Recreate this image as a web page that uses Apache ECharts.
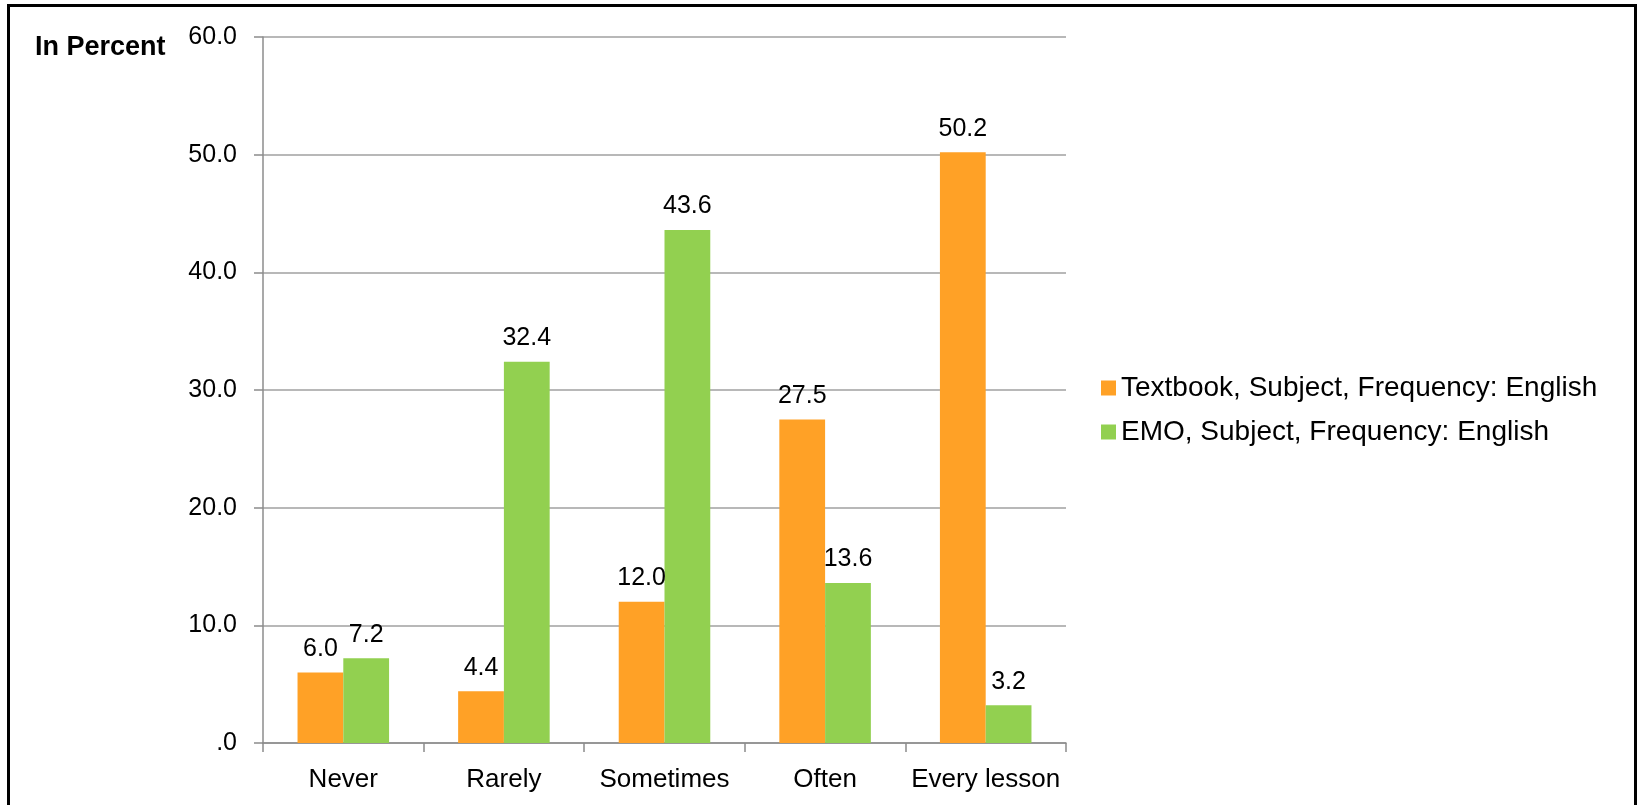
<!DOCTYPE html>
<html>
<head>
<meta charset="utf-8">
<script src="https://cdn.jsdelivr.net/npm/echarts@6/dist/echarts.min.js"></script>
<style>
  html, body { margin: 0; padding: 0; background: #fff; overflow: hidden; }
  #frame { position: absolute; left: 7px; top: 4px; width: 1624px; height: 900px; border: 3px solid #000; }
  #chart { position: absolute; left: 0; top: 0; width: 1642px; height: 805px; }
</style>
</head>
<body>
<div id="frame"></div>
<div id="chart"></div>
<script>
// frequency categories
var categories = ['Never', 'Rarely', 'Sometimes', 'Often', 'Every lesson'];
var textbookValues = [6.0, 4.4, 12.0, 27.5, 50.2];
var emoValues = [7.2, 32.4, 43.6, 13.6, 3.2];
var seriesNames = ['Textbook, Subject, Frequency: English', 'EMO, Subject, Frequency: English'];

var font = 'Liberation Sans';

function barLabel() {
  return {
    show: true, position: 'top', distance: 11,
    fontSize: 25, color: '#000', fontFamily: font,
    formatter: function (p) { return p.value.toFixed(1); }
  };
}

var myChart = echarts.init(document.getElementById('chart'));
var option = {
  animation: false,
  textStyle: { fontFamily: font },
  grid: { left: 263, right: 576, top: 37, bottom: 62 },
  graphic: [
    {
      type: 'text', left: 35, top: 34,
      style: { text: 'In Percent', font: 'bold 27px ' + font, fill: '#000' }
    }
  ],
  legend: {
    orient: 'vertical',
    left: 1096, top: 369,
    itemWidth: 15, itemHeight: 15, itemGap: 16,
    icon: 'rect',
    textStyle: { fontSize: 28, color: '#000', fontFamily: font },
    data: seriesNames
  },
  xAxis: {
    type: 'category',
    data: categories,
    axisLine: { lineStyle: { color: '#8c8c8c', width: 1.5 } },
    axisTick: { show: true, length: 9, lineStyle: { color: '#8c8c8c', width: 1.5 } },
    axisLabel: { interval: 0, fontSize: 26, color: '#000', margin: 24 }
  },
  yAxis: {
    type: 'value',
    min: 0, max: 60, interval: 10,
    axisLine: { show: true, lineStyle: { color: '#8c8c8c', width: 1.5 } },
    axisTick: { show: true, length: 9, lineStyle: { color: '#8c8c8c', width: 1.5 } },
    splitLine: { lineStyle: { color: '#a0a0a0', width: 1.5 } },
    axisLabel: {
      fontSize: 25, color: '#000', margin: 26,
      formatter: function (v) { return v === 0 ? '.0' : v.toFixed(1); }
    }
  },
  series: [
    {
      name: seriesNames[0],
      type: 'bar',
      data: textbookValues,
      barGap: '0%',
      barCategoryGap: '43%',
      itemStyle: { color: '#FFA126' },
      label: barLabel()
    },
    {
      name: seriesNames[1],
      type: 'bar',
      data: emoValues,
      itemStyle: { color: '#92D050' },
      label: barLabel()
    }
  ]
};
myChart.setOption(option);
</script>
</body>
</html>
